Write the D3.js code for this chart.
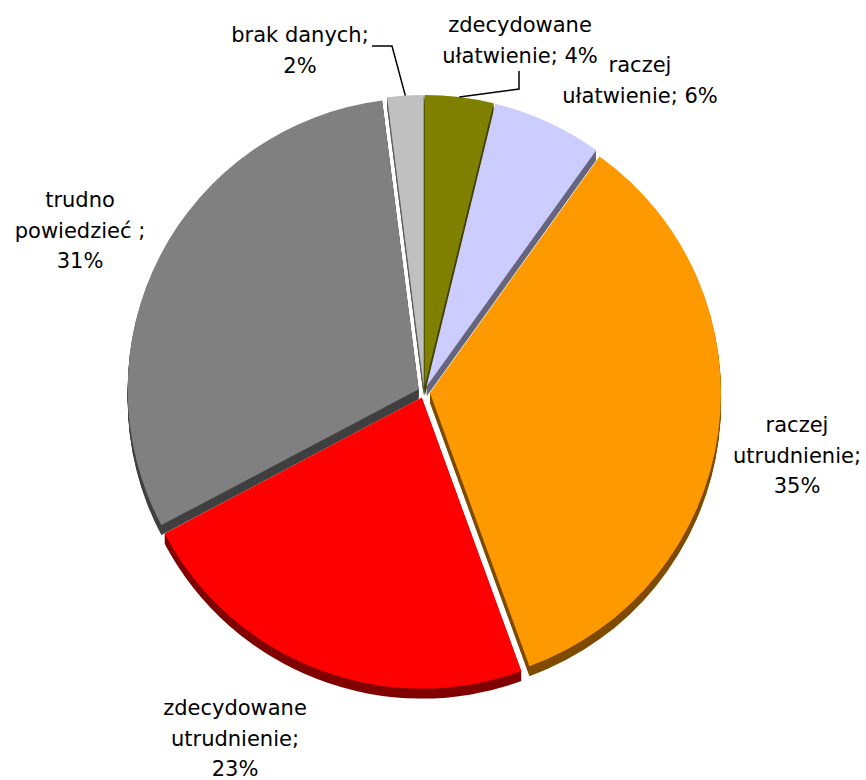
<!DOCTYPE html>
<html>
<head>
<meta charset="utf-8">
<script src="https://cdn.jsdelivr.net/npm/d3@7"></script>
<style>
  html, body { margin: 0; padding: 0; background: #fff; }
  svg { display: block; }
  text { font-family: "DejaVu Sans", Verdana, sans-serif; font-size: 21px; fill: #000; }
</style>
</head>
<body>
<svg id="chart" width="866" height="780"></svg>
<script>
// ---- data ----
const categories = ["zdecydowane ułatwienie", "raczej ułatwienie", "raczej utrudnienie",
                    "zdecydowane utrudnienie", "trudno powiedzieć ", "brak danych"];
const values = [3.8, 6.1, 34.5, 22.8, 30.7, 2.0];
const colors = ["#808000", "#CCCCFF", "#FF9900", "#FF0000", "#808080", "#C0C0C0"];
const sideColors = ["#404000", "#66667F", "#7F4C00", "#800000", "#404040", "#606060"];
// label text lines ({p} = percentage)
const labelLines = [
  ["zdecydowane", "ułatwienie; {p}"],
  ["raczej", "ułatwienie; {p}"],
  ["raczej", "utrudnienie;", "{p}"],
  ["zdecydowane", "utrudnienie;", "{p}"],
  ["trudno", "powiedzieć ;", "{p}"],
  ["brak danych;", "{p}"]
];

// ---- layout ----
const cx = 424, cy = 392, R = 291, explode = 6, depth = 10;
const lineH = 30.5;
// baseline of first label line (center x, y)
const labelPos = [[520, 32], [640, 72], [797, 432], [235, 715], [80, 207], [300, 42]];
// leader lines (start, elbow); null = none; end is on the slice rim
const leaders = [[[519, 71], [519, 89]], null, null, null, null, [[372, 46], [392, 46]]];

const svg = d3.select("#chart");
const total = d3.sum(values);
const pie = d3.pie().sort(null).value(d => d)(values);
const arc = d3.arc().innerRadius(0).outerRadius(R);

function offset(d) {
  const a = (d.startAngle + d.endAngle) / 2;
  return [cx + explode * Math.sin(a), cy - explode * Math.cos(a)];
}

// sides (extrusion)
const sides = svg.append("g");
pie.forEach((d, i) => {
  const [ox, oy] = offset(d);
  for (let t = depth; t >= 1; t--) {
    sides.append("path")
      .attr("d", arc(d))
      .attr("transform", `translate(${ox},${oy + t})`)
      .attr("fill", sideColors[i]);
  }
});

// tops
const tops = svg.append("g");
pie.forEach((d, i) => {
  const [ox, oy] = offset(d);
  tops.append("path")
    .attr("d", arc(d))
    .attr("transform", `translate(${ox},${oy})`)
    .attr("fill", colors[i]);
});

// leader lines
pie.forEach((d, i) => {
  if (!leaders[i]) return;
  const [ox, oy] = offset(d);
  const a = (d.startAngle + d.endAngle) / 2;
  const end = [ox + R * Math.sin(a), oy - R * Math.cos(a)];
  svg.append("path")
    .attr("d", d3.line()([leaders[i][0], leaders[i][1], end]))
    .attr("fill", "none")
    .attr("stroke", "#000")
    .attr("stroke-width", 1.5);
});

// labels
pie.forEach((d, i) => {
  const pct = Math.round(d.value / total * 100) + "%";
  const t = svg.append("text").attr("text-anchor", "middle");
  labelLines[i].forEach((s, k) => {
    t.append("tspan")
      .attr("x", labelPos[i][0])
      .attr("y", labelPos[i][1] + k * lineH)
      .text(s.replace("{p}", pct));
  });
});
</script>
</body>
</html>
